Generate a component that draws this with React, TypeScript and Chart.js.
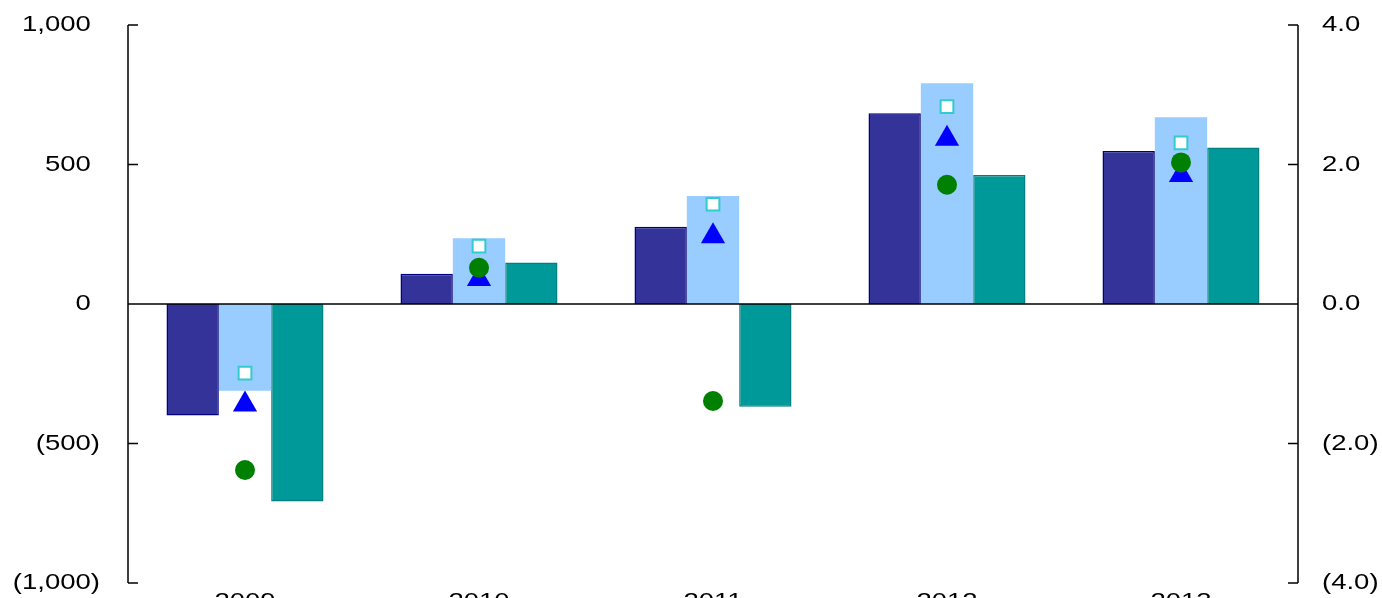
import React, { useEffect, useRef } from "react";
import { Chart, registerables } from "chart.js";

Chart.register(...registerables);

const categories = ["2009", "2010", "2011", "2012", "2013"];
const seriesNavy = [-400, 108, 277, 684, 548];
const seriesLightBlue = [-311, 236, 387, 791, 669];
const seriesTeal = [-708, 149, -368, 462, 561];
const pointsSquare = [-0.99, 0.83, 1.43, 2.83, 2.31];
const pointsTriangle = [-1.44, 0.36, 0.97, 2.37, 1.85];
const pointsCircle = [-2.38, 0.52, -1.39, 1.71, 2.03];

const FONT = '22px "Liberation Sans", Arial, sans-serif';
const SX = 1.25;

const fmtLeft = (v: number) =>
  v < 0 ? `(${Math.abs(v).toLocaleString("en-US")})` : v.toLocaleString("en-US");
const fmtRight = (v: number) => (v < 0 ? `(${Math.abs(v).toFixed(1)})` : v.toFixed(1));

const axesPlugin = {
  id: "customAxes",
  afterDatasetsDraw(chart: any) {
    const { ctx, chartArea, scales } = chart;
    const y = scales.y;
    const yR = scales.yR;
    ctx.save();
    ctx.strokeStyle = "#000";
    ctx.lineWidth = 1.5;
    ctx.beginPath();
    ctx.moveTo(chartArea.left, chartArea.top);
    ctx.lineTo(chartArea.left, chartArea.bottom);
    ctx.moveTo(chartArea.right, chartArea.top);
    ctx.lineTo(chartArea.right, chartArea.bottom);
    y.ticks.forEach((t: any) => {
      const py = y.getPixelForValue(t.value);
      ctx.moveTo(chartArea.left, py);
      ctx.lineTo(chartArea.left + 10, py);
    });
    yR.ticks.forEach((t: any) => {
      const py = yR.getPixelForValue(t.value);
      ctx.moveTo(chartArea.right - 10, py);
      ctx.lineTo(chartArea.right, py);
    });
    const y0 = y.getPixelForValue(0);
    ctx.moveTo(chartArea.left, y0);
    ctx.lineTo(chartArea.right, y0);
    ctx.stroke();
    ctx.restore();
  },
  afterDraw(chart: any) {
    const { ctx, scales } = chart;
    const y = scales.y;
    const yR = scales.yR;
    const x = scales.x;
    ctx.save();
    ctx.font = FONT;
    ctx.fillStyle = "#000";
    const parenW = ctx.measureText(")").width * SX;
    const drawText = (text: string, px: number, py: number, align: CanvasTextAlign, base: CanvasTextBaseline) => {
      ctx.save();
      ctx.translate(px, py);
      ctx.scale(SX, 1);
      ctx.textAlign = align;
      ctx.textBaseline = base;
      ctx.fillText(text, 0, 0);
      ctx.restore();
    };
    y.ticks.forEach((t: any) => {
      const py = y.getPixelForValue(t.value);
      const right = t.value < 0 ? 100 : 100 - parenW;
      drawText(fmtLeft(t.value), right, py, "right", "middle");
    });
    yR.ticks.forEach((t: any) => {
      const py = yR.getPixelForValue(t.value);
      drawText(fmtRight(t.value), 1322, py, "left", "middle");
    });
    categories.forEach((c, i) => {
      const px = x.getPixelForValue(i);
      drawText(c, px, 608, "center", "alphabetic");
    });
    ctx.restore();
  },
};

export default function App() {
  const ref = useRef<HTMLCanvasElement | null>(null);
  useEffect(() => {
    document.body.style.margin = "0";
    const canvas = ref.current;
    if (!canvas) return;
    const chart = new Chart(canvas, {
      type: "bar",
      data: {
        labels: categories,
        datasets: [
          {
            type: "line",
            label: "circle",
            data: pointsCircle,
            yAxisID: "yR",
            showLine: false,
            pointStyle: "circle",
            pointRadius: 10,
            pointBackgroundColor: "#008000",
            pointBorderColor: "#008000",
            pointBorderWidth: 0,
            order: 1,
          },
          {
            type: "line",
            label: "triangle",
            data: pointsTriangle,
            yAxisID: "yR",
            showLine: false,
            pointStyle: "triangle",
            pointRadius: 14,
            pointBackgroundColor: "#0000FF",
            pointBorderColor: "#0000FF",
            pointBorderWidth: 0,
            order: 2,
          },
          {
            type: "line",
            label: "square",
            data: pointsSquare,
            yAxisID: "yR",
            showLine: false,
            pointStyle: "rect",
            pointRadius: 9,
            pointBackgroundColor: "#FFFFFF",
            pointBorderColor: "#33CCCC",
            pointBorderWidth: 2,
            order: 3,
          },
          {
            label: "navy",
            data: seriesNavy,
            yAxisID: "y",
            backgroundColor: "#333399",
            borderColor: "#000080",
            borderWidth: 1.5,
            order: 10,
          },
          {
            label: "lightblue",
            data: seriesLightBlue,
            yAxisID: "y",
            backgroundColor: "#99CCFF",
            borderWidth: 0,
            order: 10,
          },
          {
            label: "teal",
            data: seriesTeal,
            yAxisID: "y",
            backgroundColor: "#009999",
            borderColor: "#008080",
            borderWidth: 1.5,
            order: 10,
          },
        ],
      },
      options: {
        responsive: false,
        maintainAspectRatio: false,
        devicePixelRatio: 1,
        animation: false,
        layout: { padding: { top: 25, left: 0, right: 0, bottom: 0 } },
        plugins: { legend: { display: false }, tooltip: { enabled: false } },
        datasets: { bar: { categoryPercentage: 0.671, barPercentage: 1.0, grouped: true } },
        scales: {
          x: {
            type: "category",
            offset: true,
            grid: { display: false, drawTicks: false },
            border: { display: false },
            ticks: { display: false },
            afterFit: (s: any) => {
              s.height = 37;
            },
          },
          y: {
            position: "left",
            min: -1000,
            max: 1000,
            ticks: { stepSize: 500, display: false },
            grid: { display: false, drawTicks: false },
            border: { display: false },
            afterFit: (s: any) => {
              s.width = 128;
            },
          },
          yR: {
            position: "right",
            min: -4,
            max: 4,
            ticks: { stepSize: 2, display: false },
            grid: { display: false, drawTicks: false },
            border: { display: false },
            afterFit: (s: any) => {
              s.width = 84;
            },
          },
        },
      } as any,
      plugins: [axesPlugin],
    });
    return () => chart.destroy();
  }, []);
  return (
    <div style={{ width: 1382, height: 620 }}>
      <canvas ref={ref} width={1382} height={620} style={{ display: "block" }} />
    </div>
  );
}
